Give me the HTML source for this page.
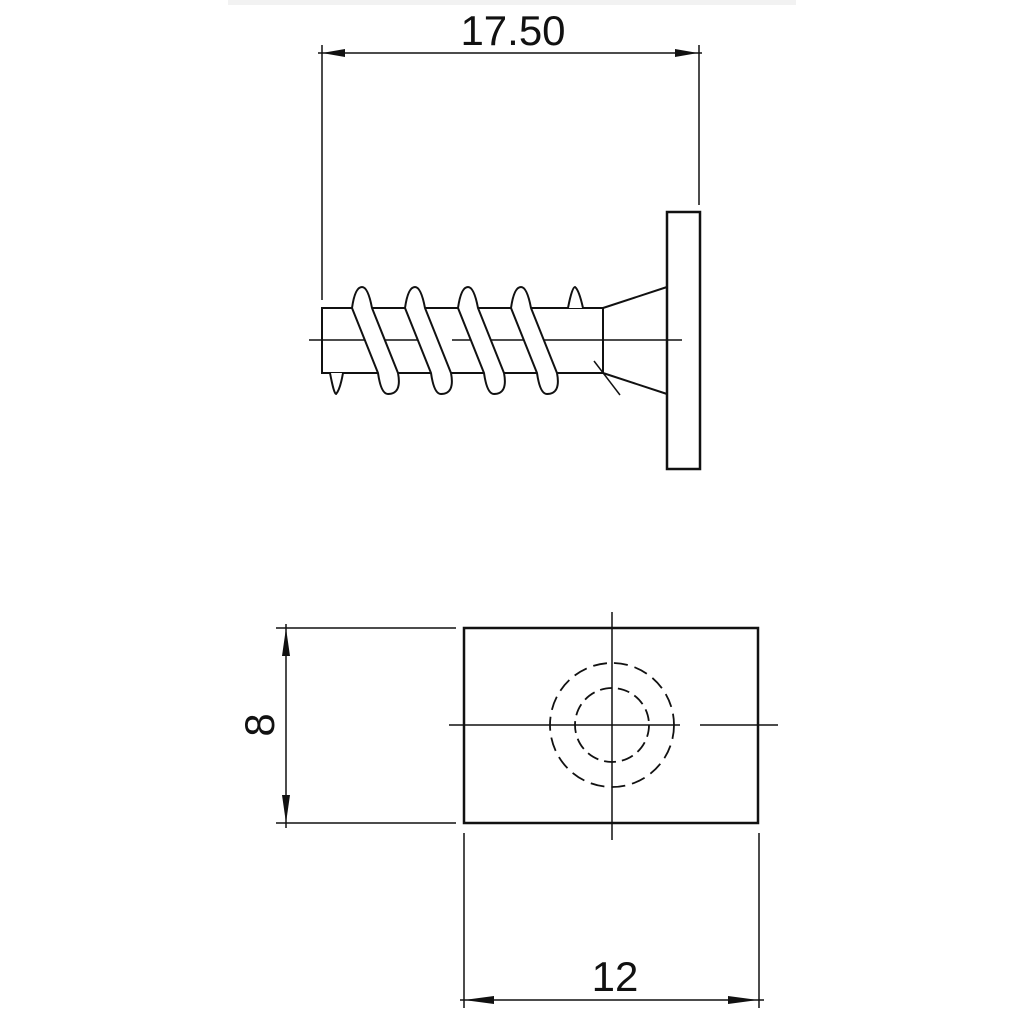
<!DOCTYPE html>
<html><head><style>body{margin:0;background:#fff}</style></head><body>
<svg width="1024" height="1024" viewBox="0 0 1024 1024" xmlns="http://www.w3.org/2000/svg" font-family="Liberation Sans, sans-serif">
<rect x="228" y="0" width="568" height="5" fill="#f2f2f2"/>
<g stroke="#111" fill="none" stroke-width="2">
<line x1="322" y1="45" x2="322" y2="300" stroke-width="1.5"/>
<line x1="699" y1="45" x2="699" y2="205" stroke-width="1.5"/>
<line x1="318" y1="53" x2="702" y2="53" stroke-width="1.5"/>
<rect x="322" y="308" width="281" height="65"/>
<line x1="309" y1="340" x2="428" y2="340" stroke-width="1.5"/>
<line x1="452" y1="340" x2="682" y2="340" stroke-width="1.5"/>
<rect x="667" y="212" width="33" height="257" stroke-width="2.5"/>
<line x1="603" y1="308" x2="667" y2="287"/>
<line x1="603" y1="373" x2="667" y2="394"/>
<line x1="594" y1="361" x2="620" y2="395" stroke-width="1.5"/>
<g fill="#fff">
<path d="M352 308 Q355 287 362 287 Q368 287 372 308 L398 373 Q402 394 388 394 Q381 394 378 373 Z"/>
<path d="M405 308 Q408 287 415 287 Q421 287 425 308 L451 373 Q455 394 441 394 Q434 394 431 373 Z"/>
<path d="M458 308 Q461 287 468 287 Q474 287 478 308 L504 373 Q508 394 494 394 Q487 394 484 373 Z"/>
<path d="M511 308 Q514 287 521 287 Q527 287 531 308 L557 373 Q561 394 547 394 Q540 394 537 373 Z"/>
<path d="M568 308 Q572 287 575 287 Q579 290 583 308"/>
<path d="M330 373 Q334 394 336 394 Q340 390 343 373"/>
</g>
<rect x="464" y="628" width="294" height="195" stroke-width="2.5"/>
<line x1="612" y1="612" x2="612" y2="840" stroke-width="1.5"/>
<line x1="449" y1="725" x2="680" y2="725" stroke-width="1.5"/>
<line x1="700" y1="725" x2="778" y2="725" stroke-width="1.5"/>
<circle cx="612" cy="725" r="62" stroke-dasharray="14 7" stroke-width="1.8"/>
<circle cx="612" cy="725" r="37" stroke-dasharray="12 6" stroke-width="1.8"/>
<line x1="276" y1="628" x2="456" y2="628" stroke-width="1.5"/>
<line x1="276" y1="823" x2="456" y2="823" stroke-width="1.5"/>
<line x1="286" y1="624" x2="286" y2="828" stroke-width="1.5"/>
<line x1="464" y1="833" x2="464" y2="1008" stroke-width="1.5"/>
<line x1="759" y1="833" x2="759" y2="1008" stroke-width="1.5"/>
<line x1="460" y1="1000" x2="764" y2="1000" stroke-width="1.5"/>
</g>
<g fill="#111">
<path d="M322 53 L345 49 L345 57 Z"/><path d="M698 53 L675 49 L675 57 Z"/>
<path d="M286 628 L282 656 L290 656 Z"/><path d="M286 823 L282 795 L290 795 Z"/>
<path d="M464 1000 L494 996 L494 1004 Z"/><path d="M758 1000 L728 996 L728 1004 Z"/>
</g>
<text x="513" y="45" font-size="42" text-anchor="middle" fill="#111">17.50</text>
<text x="615" y="991" font-size="42" text-anchor="middle" fill="#111">12</text>
<text transform="translate(274,725) rotate(-90)" font-size="42" text-anchor="middle" fill="#111">8</text>
</svg>
</body></html>
